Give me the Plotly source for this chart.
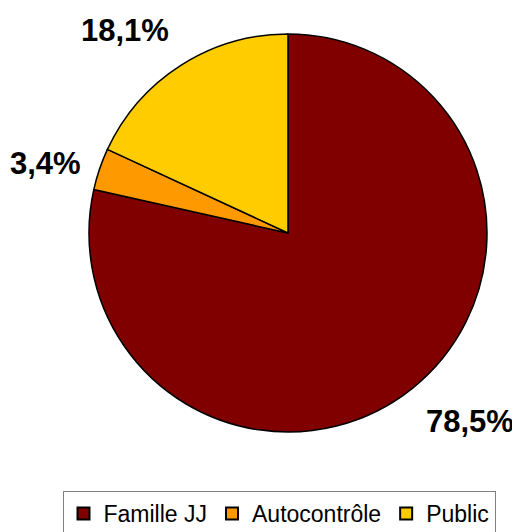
import math
import plotly.graph_objects as go

labels = ["Famille JJ", "Autocontrôle", "Public"]
values = [78.5, 3.4, 18.1]
value_text = ["78,5%", "3,4%", "18,1%"]
colors = ["#800000", "#FF9900", "#FFCC00"]

# page body has an 8px margin: work in figure pixels
OFF = 8
W, H = 520 - OFF, 532 - OFF
cx, cy, r = 288 - OFF, 233 - OFF, 199

fig = go.Figure(go.Pie(
    labels=labels, values=values, sort=False, direction="clockwise", rotation=0,
    marker=dict(colors=colors, line=dict(color="black", width=1.5)),
    textinfo="none", hoverinfo="label+percent",
    domain=dict(x=[(cx - r) / W, (cx + r) / W], y=[(H - cy - r) / H, (H - cy + r) / H]),
))

total = sum(values)
cum = 0.0
annotations = []
for v, t in zip(values, value_text):
    mid = (cum + v / 2) / total * 2 * math.pi
    cum += v
    s, c = math.sin(mid), math.cos(mid)
    d = 1.09 * r
    px, py = cx + s * d, cy - c * d
    xa = "left" if s > 0.3 else ("right" if s < -0.3 else "center")
    ya = "bottom" if c > 0.4 else ("top" if c < -0.4 else "middle")
    annotations.append(dict(x=px / W, y=1 - py / H, xref="paper", yref="paper",
                            text="<b>%s</b>" % t, showarrow=False, xanchor=xa, yanchor=ya,
                            font=dict(family="Liberation Sans, Arial", size=31, color="black")))

fig.update_layout(
    width=W, height=H, margin=dict(l=0, r=0, t=0, b=0, autoexpand=False),
    paper_bgcolor="white", plot_bgcolor="white",
    annotations=annotations,
    showlegend=True,
    legend=dict(orientation="h", x=(279 - OFF) / W, xanchor="center", y=1 - (491 - OFF) / H,
                yanchor="top", bordercolor="#808080", borderwidth=1,
                font=dict(family="Liberation Sans, Arial", size=23, color="black"),
                itemsizing="constant"),
)
fig.write_html("out.html")
